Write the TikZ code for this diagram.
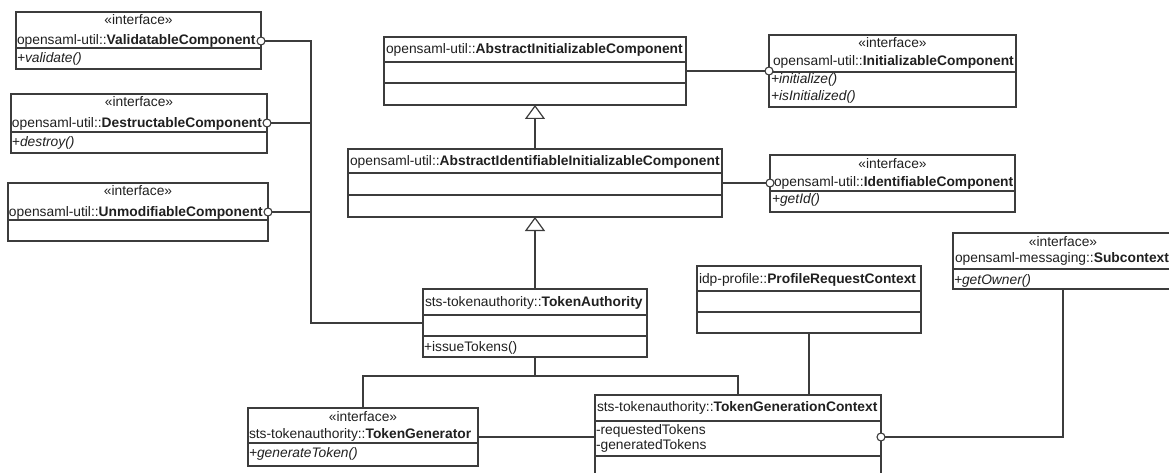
\documentclass[tikz,border=0pt]{standalone}
\usepackage{fontspec}
\setmainfont{Liberation Sans}
\usetikzlibrary{arrows.meta}

\definecolor{umlline}{HTML}{3C3C3C}
\definecolor{umltext}{HTML}{202020}

\tikzset{
  box/.style={draw=umlline, line width=1.2pt, fill=white, inner sep=0pt, outer sep=0pt, anchor=north west},
  ln/.style={draw=umlline, line width=1.2pt},
  txt/.style={inner sep=0pt, outer sep=0pt, text=umltext, font=\fontsize{13.8}{16}\selectfont, anchor=base west},
  stereo/.style={txt, anchor=base},
  lolli/.style={circle, draw=umlline, line width=1.1pt, fill=white, minimum size=8pt, inner sep=0pt},
  gen/.style={ln, -{Triangle[open, length=14pt, width=20pt, line width=1.2pt]}},
}

% class box from its top-left to its bottom-right corner
\newcommand\classbox[5]{\node[box, minimum width={(#4-#2)*1pt}, minimum height={(#5-#3)*1pt}] (#1) at (#2,#3) {};}
% compartment line across a class box at height #2
\newcommand\classsep[2]{\coordinate (sepat) at (0,#2); \draw[ln] (#1.west |- sepat) -- (#1.east |- sepat);}

\begin{document}
\begin{tikzpicture}[x=1pt, y=-1pt]
\useasboundingbox (0,0) rectangle (1169,473);
\fill[white] (0,0) rectangle (1169,473);
\clip (0,0) rectangle (1169,473);

% ---- interfaces on the left
\classbox{valid}{16}{12}{261}{69}
\classsep{valid}{48}
\node[stereo] (valid-st) at (138.5,25) {«interface»};
\node[txt] (valid-nm) at (17,45) {opensaml-util::\textbf{ValidatableComponent}};
\node[txt] (valid-op) at (17,63) {\textit{+validate()}};

\classbox{destr}{11}{94}{267}{153}
\classsep{destr}{132}
\node[stereo] (destr-st) at (139,107) {«interface»};
\node[txt] (destr-nm) at (12,128) {opensaml-util::\textbf{DestructableComponent}};
\node[txt] (destr-op) at (12,147) {\textit{+destroy()}};

\classbox{unmod}{8}{183}{268}{241}
\classsep{unmod}{220}
\node[stereo] (unmod-st) at (138,196) {«interface»};
\node[txt] (unmod-nm) at (9,216) {opensaml-util::\textbf{UnmodifiableComponent}};

% ---- abstract classes
\classbox{ainit}{384}{37}{686}{105}
\classsep{ainit}{62}
\classsep{ainit}{83}
\node[txt] (ainit-nm) at (386,54) {opensaml-util::\textbf{AbstractInitializableComponent}};

\classbox{aident}{348}{149}{722}{217}
\classsep{aident}{173}
\classsep{aident}{195}
\node[txt] (aident-nm) at (350,166) {opensaml-util::\textbf{AbstractIdentifiableInitializableComponent}};

% ---- interfaces on the right
\classbox{initc}{769}{35}{1016}{107}
\classsep{initc}{72}
\node[stereo] (initc-st) at (892.5,48) {«interface»};
\node[txt] (initc-nm) at (773,66) {opensaml-util::\textbf{InitializableComponent}};
\node[txt] (initc-op1) at (771,84) {\textit{+initialize()}};
\node[txt] (initc-op2) at (771,101) {\textit{+isInitialized()}};

\classbox{identc}{770}{155}{1015}{212}
\classsep{identc}{191}
\node[stereo] (identc-st) at (892.5,168) {«interface»};
\node[txt] (identc-nm) at (774,186) {opensaml-util::\textbf{IdentifiableComponent}};
\node[txt] (identc-op) at (772,204) {\textit{+getId()}};

% ---- token authority
\classbox{tauth}{423}{289}{647}{357}
\classsep{tauth}{315}
\classsep{tauth}{336}
\node[txt] (tauth-nm) at (425,306) {sts-tokenauthority::\textbf{TokenAuthority}};
\node[txt] (tauth-op) at (424,351) {+issueTokens()};

\classbox{prc}{697}{266}{921}{333}
\classsep{prc}{291}
\classsep{prc}{312}
\node[txt] (prc-nm) at (699,283) {idp-profile::\textbf{ProfileRequestContext}};

\classbox{subc}{953}{233}{1173}{289}
\classsep{subc}{269}
\node[stereo] (subc-st) at (1063,246) {«interface»};
\node[txt] (subc-nm) at (955,262) {opensaml-messaging::\textbf{Subcontext}};
\node[txt] (subc-op) at (954,284) {\textit{+getOwner()}};

\classbox{tgen}{248}{408}{478}{466}
\classsep{tgen}{443}
\node[stereo] (tgen-st) at (363,421) {«interface»};
\node[txt] (tgen-nm) at (249,438) {sts-tokenauthority::\textbf{TokenGenerator}};
\node[txt] (tgen-op) at (249,457) {\textit{+generateToken()}};

\classbox{tgc}{595}{395}{881}{490}
\classsep{tgc}{421}
\classsep{tgc}{456}
\node[txt] (tgc-nm) at (597,411) {sts-tokenauthority::\textbf{TokenGenerationContext}};
\node[txt] (tgc-a1) at (596,434) {-requestedTokens};
\node[txt] (tgc-a2) at (596,449) {-generatedTokens};

% ---- realizations of the left interfaces
\coordinate (trunk) at (311,323);
\draw[ln] (valid.east |- 0,41) -- (trunk |- 0,41) -- (trunk) -- (tauth.west);
\draw[ln] (destr.east |- 0,123) -- (trunk |- 0,123);
\draw[ln] (unmod.east |- 0,212) -- (trunk |- 0,212);
\node[lolli] (valid-l) at (261,41) {};
\node[lolli] (destr-l) at (267,123) {};
\node[lolli] (unmod-l) at (268,212) {};

% ---- realizations on the right
\draw[ln] (ainit.east) -- (initc.west |- ainit.east);
\draw[ln] (aident.east) -- (identc.west |- aident.east);
\node[lolli] (initc-l) at (769,71) {};
\node[lolli] (identc-l) at (770,183) {};

% ---- generalizations
\draw[gen] (aident.north) -- (ainit.south);
\draw[gen] (tauth.north) -- (aident.south);

% ---- associations below the token authority
\coordinate (bus) at (535,376);
\draw[ln] (tauth.south) -- (bus);
\draw[ln] (tgen.north) |- (bus);
\draw[ln] (tgc.north) |- (bus);
\draw[ln] (prc.south) -- (prc.south |- tgc.north);
\draw[ln] (tgen.east) -- (tgen.east -| tgc.west);
\draw[ln] (tgc.east |- 0,437) -| (subc.south);
\node[lolli] (tgc-l) at (881,437) {};
\end{tikzpicture}
\end{document}
